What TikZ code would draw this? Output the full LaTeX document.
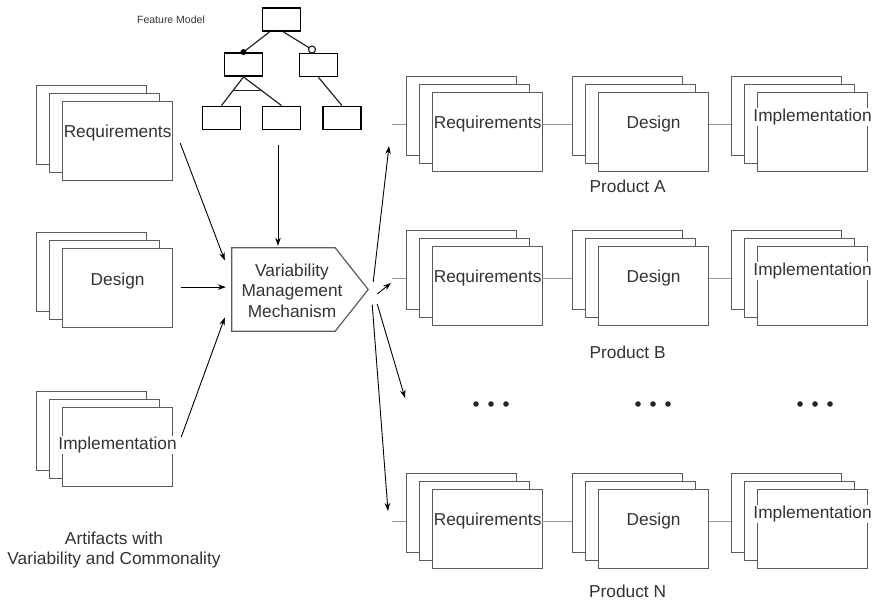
\documentclass[tikz,border=0pt]{standalone}
\usepackage{fontspec}
\setmainfont{Liberation Sans}
\usetikzlibrary{arrows.meta, positioning, calc}

\definecolor{sheetgray}{HTML}{5A5A5A}
\definecolor{txtgray}{HTML}{333333}
\definecolor{linkgray}{HTML}{9A9A9A}

\tikzset{
  sheet/.style={draw=sheetgray, fill=white, line width=1.2pt, minimum width=110pt, minimum height=79pt, inner sep=0pt, anchor=north west},
  lbl/.style={text=txtgray, font=\fontsize{17.3}{20.5}\selectfont, fill=white, inner sep=0.5pt},
  fmbox/.style={draw=black, line width=1.9pt, minimum width=38pt, minimum height=23pt, inner sep=0pt},
  fmedge/.style={draw=black!85, line width=1.2pt},
  arr/.style={-{Stealth[length=8pt,width=5.5pt]}, line width=0.9pt, black},
  link/.style={draw=linkgray, line width=1pt},
}

\begin{document}
\begin{tikzpicture}[x=1pt, y=-1pt]
\useasboundingbox (0,0) rectangle (877,605);
% Feature model tree
\node[font=\fontsize{10.5}{12}\selectfont, text=txtgray] (fmlbl) at (171,20) {Feature Model};
\node[fmbox] (fm0) at (281.5,19.5) {};
\node[fmbox] (fm1) at (243.5,64.5) {};
\node[fmbox] (fm2) at (318.5,65) {};
\node[fmbox] (fm3) at (221.5,118) {};
\node[fmbox] (fm4) at (281.5,118) {};
\node[fmbox] (fm5) at (342,118) {};
\coordinate (opt) at ($(fm2.north)+(-6.5,-3)$);
\draw[fmedge] ($(fm0.south)+(-12,0)$) -- (fm1.north);
\draw[fmedge] ($(fm0.south)+(2,0)$) -- (opt);
\fill (fm1.north) circle (3);
\draw[fmedge, fill=white] (opt) circle (3.5);
\draw[fmedge] (fm1.south) -- (fm3.north);
\draw[fmedge] (fm1.south) -- (fm4.north);
\draw[fmedge] ($(fm1.south)!0.47!(fm3.north)$) -- ($(fm1.south)!0.47!(fm4.north)$);
\draw[fmedge] (fm2.south) -- (fm5.north);
% Artifact stacks on the left
\foreach \nm/\px/\py in {reqL/62/101, desL/62/248, impL/62/407} {
  \node[sheet] (bk\nm) at ({\px-26},{\py-16}) {};
  \node[sheet] (md\nm) at ({\px-13},{\py-8}) {};
  \node[sheet] (\nm) at (\px,\py) {};
}
\node[lbl] (rqtL) at ($(reqL.north)+(0,32)$) {Requirements};
\node[lbl] (dstL) at ($(desL.north)+(0,33)$) {Design};
\node[lbl] (imtL) at ($(impL.north)+(0,38)$) {Implementation};
\node[lbl, align=center] (artlbl) at (114,550) {Artifacts with\\Variability and Commonality};
% Products on the right
\foreach \r/\py in {a/92, b/246, n/489} {
  \foreach \k/\px in {req/432, des/598, imp/757} {
    \node[sheet] (bk\k\r) at ({\px-26},{\py-16}) {};
    \node[sheet] (md\k\r) at ({\px-13},{\py-8}) {};
    \node[sheet] (\k\r) at (\px,\py) {};
  }
  \node[lbl] (rqt\r) at ($(req\r.north)+(0,32)$) {Requirements};
  \node[lbl] (dst\r) at ($(des\r.north)+(0,32)$) {Design};
  \node[lbl] (imt\r) at ($(imp\r.north)+(0,25)$) {Implementation};
  \coordinate (in\r) at ($(rqt\r.east -| bkreq\r.west)+(-14,0)$);
  \draw[link] (in\r) -- (in\r -| bkreq\r.west);
  \draw[link] (rqt\r.east) -- (rqt\r.east -| bkdes\r.west);
  \draw[link] (rqt\r.east -| des\r.east) -- (rqt\r.east -| bkimp\r.west);
}
\foreach \r/\lt/\dy in {a/A/14, b/B/26, n/N/22} {
  \node[lbl] (prod\r) at ($(des\r.south)+(-26,\dy)$) {Product \lt};
}
% dots between product B and product N
\foreach \cx in {491,653,815} {
  \foreach \dx in {-15,0,15} {
    \fill[black!85] ({\cx+\dx},404) circle (2.8);
  }
}
\coordinate (dotsin) at (405,398);
% Variability management mechanism
\node[minimum width=103pt, minimum height=83pt, inner sep=0pt] (vmm) at (283.5,289.5) {};
\coordinate (tip) at ($(vmm.east)+(33,0)$);
\draw[draw=sheetgray, line width=1.2pt] (vmm.north west) -- (vmm.north east) -- (tip) -- (vmm.south east) -- (vmm.south west) -- cycle;
\node[lbl, align=center, fill=none] (vmmlbl) at ($(vmm.center)+(8.5,1)$) {Variability\\Management\\Mechanism};
% Arrows into the mechanism
\coordinate (fmout) at ($(fm4.south)+(-3.5,15)$);
\draw[arr] (fmout) -- ($(fmout |- vmm.north)+(0,-2)$);
\draw[arr] ($(reqL.east)+(7,2)$) -- ($(vmm.west)+(-7,-29)$);
\draw[arr] ($(desL.east)+(8,-1)$) -- ($(desL.east -| vmm.west)+(-6,-1)$);
\draw[arr] ($(impL.east)+(8,-10)$) -- ($(vmm.west)+(-7,28)$);
% Arrows out to the products
\draw[arr] ($(tip)+(5,-7.5)$) -- ($(ina)+(-3,22)$);
\draw[arr] ($(tip)+(9,4.5)$) -- ($(inb)+(-1,5)$);
\draw[arr] ($(tip)+(9,14.5)$) -- (dotsin);
\draw[arr] ($(tip)+(4,15)$) -- ($(inn)+(-4,-10)$);
\end{tikzpicture}
\end{document}
